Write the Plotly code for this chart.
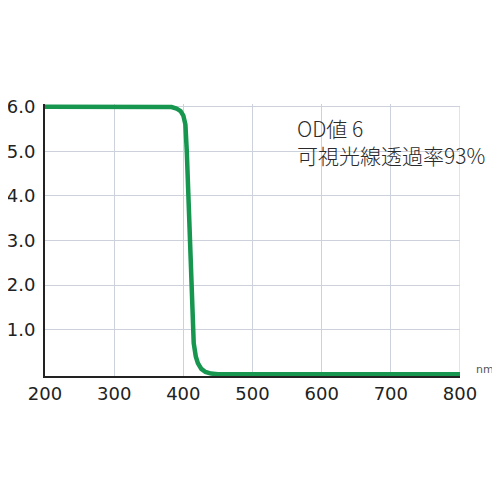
import plotly.graph_objects as go

# wavelength (nm) and optical density
wavelength = [200, 370, 383, 390, 396, 400, 403, 405, 407, 409, 411, 413, 415, 418, 421, 426, 432, 440, 450, 800]
od = [6.0, 6.0, 5.99, 5.96, 5.9, 5.8, 5.6, 5.0, 4.0, 3.0, 2.0, 1.2, 0.7, 0.4, 0.25, 0.12, 0.05, 0.015, 0.0, 0.0]

y_ticks = [1, 2, 3, 4, 5, 6]
y_labels = ["1.0", "2.0", "3.0", "4.0", "5.0", "6.0"]
x_ticks = [200, 300, 400, 500, 600, 700, 800]

note_lines = ["OD値 6", "可視光線透過率93%"]

fig = go.Figure()
fig.add_trace(go.Scatter(x=wavelength, y=od, mode="lines",
                         line=dict(color="#16964f", width=4.5)))

font_tick = dict(family="DejaVu Sans", size=18, color="#222222")

# the page body adds an 8px offset, so margins are shifted to compensate
fig.update_layout(
    width=500, height=500,
    margin=dict(l=37, r=48, t=96, b=132),
    paper_bgcolor="white", plot_bgcolor="white",
    showlegend=False,
    xaxis=dict(range=[200, 800], tickvals=x_ticks, tickfont=font_tick,
               showgrid=True, gridcolor="#cdd1dc", gridwidth=1.2,
               showline=True, linecolor="#222222", linewidth=2,
               zeroline=False, ticks="", automargin=False),
    yaxis=dict(range=[-0.04, 6.06], tickvals=y_ticks, ticktext=y_labels,
               tickfont=font_tick,
               showgrid=True, gridcolor="#cdd1dc", gridwidth=1.2,
               showline=True, linecolor="#222222", linewidth=2,
               zeroline=False, ticks="", ticklabelstandoff=4, automargin=False),
)

# vertical grid line on the right edge at 800 nm
fig.add_shape(type="line", x0=800, x1=800, y0=0, y1=6, xref="x", yref="y",
              line=dict(color="#cdd1dc", width=1.2), layer="below")

fig.add_annotation(x=561, y=5.23, xref="x", yref="y", text="<br>".join(note_lines),
                   showarrow=False, xanchor="left", yanchor="middle", align="left",
                   font=dict(family="Noto Sans CJK JP", size=21, color="#2a2a2a",
                             weight=300))

fig.add_annotation(x=1.06, y=0.025, xref="paper", yref="paper", text="nm",
                   showarrow=False, xanchor="center", yanchor="middle",
                   font=dict(family="DejaVu Sans", size=11, color="#555555"))

fig.write_html("out.html")
